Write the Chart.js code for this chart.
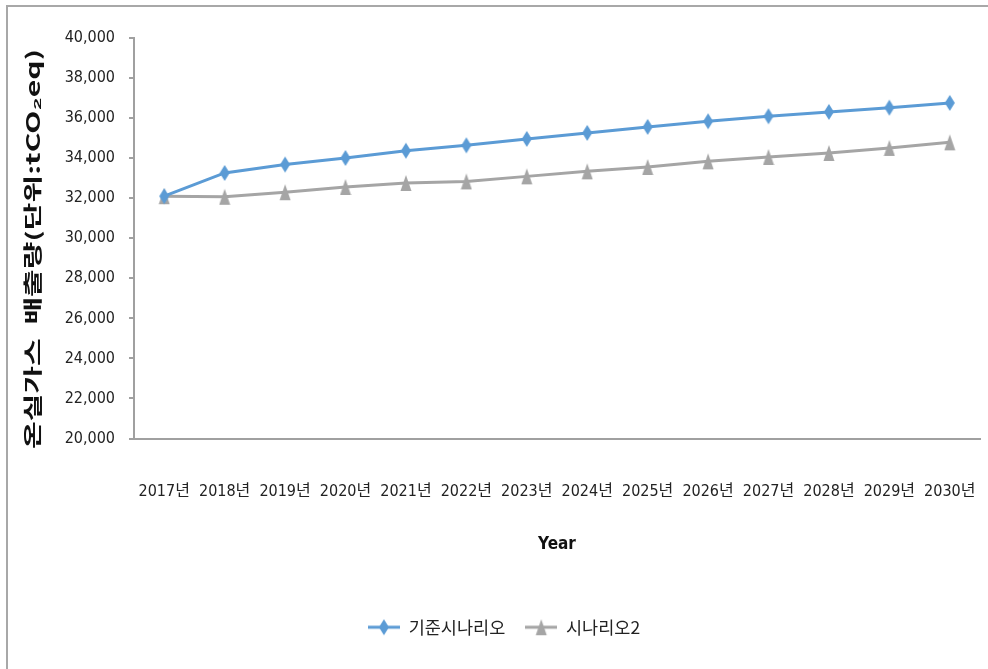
<!DOCTYPE html>
<html>
<head>
<meta charset="utf-8">
<script src="https://cdn.jsdelivr.net/npm/chart.js@4.4.0/dist/chart.umd.min.js"></script>
<style>
html, body { margin: 0; padding: 0; background: #fff; overflow: hidden; }
#wrap { position: relative; width: 988px; height: 669px; }
#frame { position: absolute; left: 6px; top: 5px; width: 1000px; height: 700px; border: 2px solid #a8a8a8; }
#chart { position: absolute; left: 0; top: 0; }
</style>
</head>
<body>
<div id="wrap">
  <div id="frame"></div>
  <canvas id="chart" width="988" height="669"></canvas>
</div>
<script>
var years = ["2017년","2018년","2019년","2020년","2021년","2022년","2023년","2024년","2025년","2026년","2027년","2028년","2029년","2030년"];
var baseScenario = [32100, 33260, 33680, 34010, 34370, 34640, 34960, 35260, 35560, 35840, 36090, 36310, 36520, 36760];
var scenario2 = [32100, 32070, 32300, 32560, 32760, 32840, 33090, 33340, 33560, 33840, 34060, 34260, 34510, 34790];
var seriesNames = ["기준시나리오", "시나리오2"];
var yTitle = "온실가스  배출량(단위:tCO₂eq)";

var blue = "#5B9BD5";
var gray = "#A5A5A5";
var narrow = '"DejaVu Sans Condensed", "Liberation Sans Narrow", "Noto Sans CJK KR", sans-serif';
var tickFont = { family: narrow, size: 16 };

function diamond(ctx, cx, cy, w, h, color) {
  ctx.fillStyle = color;
  ctx.beginPath();
  ctx.moveTo(cx, cy - h / 2);
  ctx.lineTo(cx + w / 2, cy);
  ctx.lineTo(cx, cy + h / 2);
  ctx.lineTo(cx - w / 2, cy);
  ctx.closePath();
  ctx.fill();
}
function triangle(ctx, cx, cy, w, h, color) {
  ctx.fillStyle = color;
  ctx.beginPath();
  ctx.moveTo(cx, cy - h / 2);
  ctx.lineTo(cx + w / 2, cy + h / 2);
  ctx.lineTo(cx - w / 2, cy + h / 2);
  ctx.closePath();
  ctx.fill();
}

// marker images: plain marker for points, line + marker for legend
function makeMarker(kind, color, withLine) {
  var c = document.createElement("canvas");
  c.width = withLine ? 32 : 12;
  c.height = 18;
  var ctx = c.getContext("2d");
  var cx = c.width / 2, cy = 9;
  if (withLine) {
    ctx.strokeStyle = color;
    ctx.lineWidth = 3;
    ctx.beginPath();
    ctx.moveTo(0, cy);
    ctx.lineTo(c.width, cy);
    ctx.stroke();
  }
  if (kind === "diamond") diamond(ctx, cx, cy, 10, 16, color);
  else triangle(ctx, cx, cy, 11, 16, color);
  return c;
}

var blueMark = makeMarker("diamond", blue, false);
var grayMark = makeMarker("triangle", gray, false);
var legendMarks = [makeMarker("diamond", blue, true), makeMarker("triangle", gray, true)];

// vertical axis title, stretched along its length
var yTitlePlugin = {
  id: "yTitle",
  afterDraw: function (chart) {
    var ctx = chart.ctx;
    ctx.save();
    ctx.font = 'bold 18px "Noto Sans CJK KR", sans-serif';
    var w0 = ctx.measureText(yTitle).width;
    ctx.translate(33, 249);
    ctx.rotate(-Math.PI / 2);
    ctx.scale(400 / w0, 1.05);
    ctx.fillStyle = "#111";
    ctx.textAlign = "center";
    ctx.textBaseline = "middle";
    ctx.fillText(yTitle, 0, 0);
    ctx.restore();
  }
};

// nudge the legend row a little to the right
var legendShift = {
  id: "legendShift",
  afterLayout: function (chart) {
    if (chart.legend) {
      chart.legend.left += 14;
      chart.legend.right += 14;
    }
  }
};

new Chart(document.getElementById("chart"), {
  type: "line",
  data: {
    labels: years,
    datasets: [{
      label: seriesNames[0],
      data: baseScenario,
      borderColor: blue,
      backgroundColor: blue,
      borderWidth: 3,
      pointStyle: blueMark,
      tension: 0
    }, {
      label: seriesNames[1],
      data: scenario2,
      borderColor: gray,
      backgroundColor: gray,
      borderWidth: 3,
      pointStyle: grayMark,
      tension: 0
    }]
  },
  options: {
    responsive: false,
    animation: false,
    layout: { padding: { left: 0, top: 38, right: 8, bottom: 23 } },
    scales: {
      y: {
        min: 20000,
        max: 40000,
        ticks: {
          stepSize: 2000,
          padding: 14,
          color: "#222",
          font: tickFont,
          callback: function (v) { return v.toLocaleString("en-US"); }
        },
        grid: { drawOnChartArea: false, tickLength: 5, color: "#a0a0a0", lineWidth: 2 },
        border: { color: "#a0a0a0", width: 2 },
        afterFit: function (scale) { scale.width = 134; }
      },
      x: {
        offset: true,
        ticks: { padding: 44, color: "#222", font: tickFont, maxRotation: 0, autoSkip: false },
        grid: { drawOnChartArea: false, drawTicks: false },
        border: { color: "#a0a0a0", width: 2 },
        title: {
          display: true,
          text: "Year",
          color: "#111",
          font: { family: narrow, size: 17, weight: "bold" },
          padding: { top: 0, bottom: 44 }
        },
        afterFit: function (scale) {
          scale.height = 160;
          scale.paddingLeft = 0;
          scale.paddingRight = 0;
        }
      }
    },
    plugins: {
      legend: {
        position: "bottom",
        labels: {
          usePointStyle: true,
          pointStyleWidth: 32,
          padding: 20,
          color: "#222",
          font: { family: '"Noto Sans CJK KR", sans-serif', size: 17.5 },
          generateLabels: function (chart) {
            var items = Chart.defaults.plugins.legend.labels.generateLabels(chart);
            items.forEach(function (it, i) { it.pointStyle = legendMarks[i]; });
            return items;
          }
        }
      },
      tooltip: { enabled: false }
    }
  },
  plugins: [yTitlePlugin, legendShift]
});
</script>
</body>
</html>
